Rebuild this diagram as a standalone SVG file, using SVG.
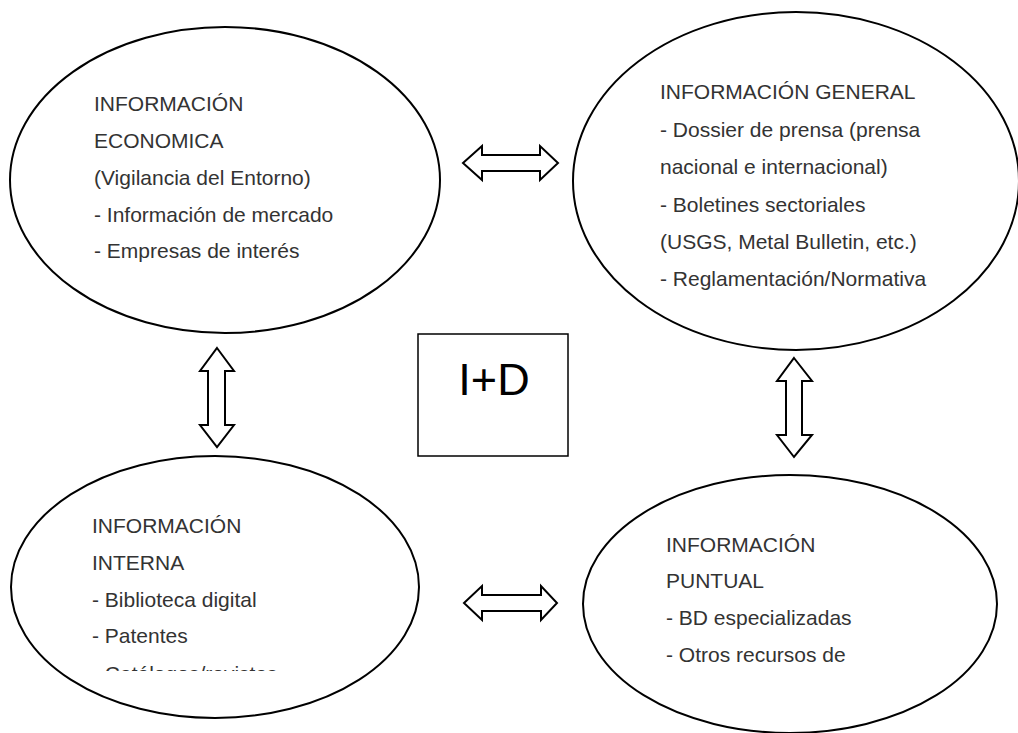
<svg xmlns="http://www.w3.org/2000/svg" width="1018" height="733" viewBox="0 0 1018 733">
<style>
.node ellipse{fill:#fff;stroke:#000;stroke-width:2}
.t{font-family:"Liberation Sans",Arial,sans-serif;font-size:21px;fill:#333}
.arr{fill:#fff;stroke:#000;stroke-width:2;stroke-linejoin:miter}
.box{fill:#fff;stroke:#000;stroke-width:1.5}
.big{font-family:"Liberation Sans",Arial,sans-serif;font-size:45px;fill:#000;text-anchor:middle}
</style>
<defs>
<clipPath id="clipInt"><rect x="0" y="440" width="450" height="231"/></clipPath>
</defs>
<rect width="1018" height="733" fill="#fff"/>
<g id="connectors">
<path class="arr" d="M463,163 L482,146 L482,155 L540,155 L540,146 L558,163 L540,180 L540,171 L482,171 L482,180 Z"/>
<path class="arr" d="M464,603 L482,586 L482,595 L541,595 L541,586 L557,603 L541,620 L541,611 L482,611 L482,620 Z"/>
<path class="arr" d="M217,348 L234,371 L225,371 L225,425 L234,425 L217,447 L200,425 L208,425 L208,371 L200,371 Z"/>
<path class="arr" d="M794,358 L812,381 L802,381 L802,435 L812,435 L794,457 L777,435 L786,435 L786,381 L777,381 Z"/>
</g>
<g id="node-economica" class="node">
<ellipse cx="225" cy="180" rx="215" ry="153"/>
<text class="t" x="94" y="111">INFORMACIÓN</text>
<text class="t" x="94" y="148">ECONOMICA</text>
<text class="t" x="94" y="185">(Vigilancia del Entorno)</text>
<text class="t" x="94" y="222">- Información de mercado</text>
<text class="t" x="94" y="258">- Empresas de interés</text>
</g>
<g id="node-general" class="node">
<ellipse cx="796" cy="181" rx="223" ry="169"/>
<text class="t" x="660" y="99">INFORMACIÓN GENERAL</text>
<text class="t" x="660" y="137">- Dossier de prensa (prensa</text>
<text class="t" x="660" y="174">nacional e internacional)</text>
<text class="t" x="660" y="212">- Boletines sectoriales</text>
<text class="t" x="660" y="249">(USGS, Metal Bulletin, etc.)</text>
<text class="t" x="660" y="286">- Reglamentación/Normativa</text>
</g>
<g id="node-id">
<rect class="box" x="418" y="334" width="150" height="122"/>
<text class="big" x="494" y="395">I+D</text>
</g>
<g id="node-interna" class="node">
<ellipse cx="215" cy="587" rx="204" ry="131"/>
<text class="t" x="92" y="533">INFORMACIÓN</text>
<text class="t" x="92" y="570">INTERNA</text>
<text class="t" x="92" y="607">- Biblioteca digital</text>
<text class="t" x="92" y="643">- Patentes</text>
<text class="t" x="92" y="681" clip-path="url(#clipInt)">- Catálogos/revistas</text>
</g>
<g id="node-puntual" class="node">
<ellipse cx="790" cy="604" rx="207" ry="129"/>
<text class="t" x="666" y="552">INFORMACIÓN</text>
<text class="t" x="666" y="588">PUNTUAL</text>
<text class="t" x="666" y="625">- BD especializadas</text>
<text class="t" x="666" y="662">- Otros recursos de</text>
</g>
</svg>
